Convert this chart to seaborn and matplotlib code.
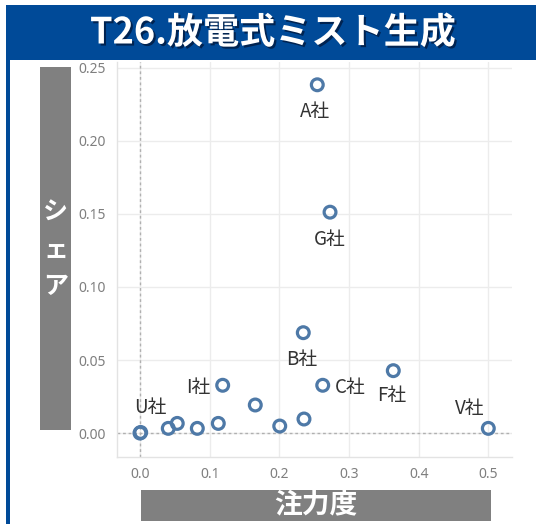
import matplotlib
matplotlib.use("Agg")
import matplotlib.pyplot as plt
import matplotlib.patheffects as pe
from matplotlib.patches import Rectangle
import seaborn as sns
import pandas as pd

# ---- data ----
title = "T26.放電式ミスト生成"
x_label = "注力度"
y_label = "シェア"

companies = ["A社", "G社", "B社", "C社", "F社", "V社", "I社", "U社",
             "", "", "", "", "", "", "", ""]
focus = [0.2545, 0.2728, 0.2344, 0.2623, 0.3636, 0.5000, 0.1187, 0.0000,
         0.0010, 0.0406, 0.0535, 0.0823, 0.1124, 0.1655, 0.2006, 0.2354]
share = [0.2384, 0.1512, 0.0687, 0.0327, 0.0427, 0.0032, 0.0327, 0.0000,
         0.0004, 0.0032, 0.0066, 0.0032, 0.0066, 0.0192, 0.0048, 0.0096]

x_ticks = [0.0, 0.1, 0.2, 0.3, 0.4, 0.5]
y_ticks = [0.00, 0.05, 0.10, 0.15, 0.20, 0.25]

# label placement (pixel offsets from point; style only)
label_style = {
    "A社": (-2, -27, "center"),
    "G社": (0, -27, "center"),
    "B社": (-2, -27, "center"),
    "C社": (12, -2, "left"),
    "F社": (-2, -25, "center"),
    "V社": (-19, 20, "center"),
    "I社": (-12, -2, "right"),
    "U社": (10, 26, "center"),
}

df = pd.DataFrame({"company": companies, "focus": focus, "share": share})

# ---- figure ----
W, H = 536, 524
sns.set_theme(style="white")
plt.rcParams["font.family"] = ["Noto Sans CJK JP", "DejaVu Sans"]

fig = plt.figure(figsize=(W / 100, H / 100), dpi=100)
fig.patch.set_facecolor("white")

def fx(px):
    return px / W

def fy(py):
    return 1 - py / H

BLUE = "#004a98"
GRAY_BOX = "#808080"
MARK = "#4e79a7"

# title banner and left border
fig.add_artist(Rectangle((fx(6), fy(60)), fx(536) - fx(6), fy(5) - fy(60),
                         transform=fig.transFigure, facecolor=BLUE, edgecolor="none"))
fig.add_artist(Rectangle((fx(6), 0), fx(4), fy(5),
                         transform=fig.transFigure, facecolor=BLUE, edgecolor="none"))
fig.text(fx(273), fy(33), title, color="white", fontsize=26, fontweight="bold",
         ha="center", va="center",
         path_effects=[pe.withSimplePatchShadow(offset=(1.5, -1.5), shadow_rgbFace="#001a40", alpha=0.8)])

# axis title boxes
fig.add_artist(Rectangle((fx(40), fy(430)), fx(31), fy(67) - fy(430),
                         transform=fig.transFigure, facecolor=GRAY_BOX, edgecolor="none"))
for i, ch in enumerate(y_label):
    fig.text(fx(55.5), fy(213 + 37 * i), ch, color="white", fontsize=18,
             fontweight="bold", ha="center", va="center")
fig.add_artist(Rectangle((fx(141), fy(521)), fx(350), fy(490) - fy(521),
                         transform=fig.transFigure, facecolor=GRAY_BOX, edgecolor="none"))
fig.text(fx(316), fy(505), x_label, color="white", fontsize=20, fontweight="bold",
         ha="center", va="center")

# ---- axes ----
ax = fig.add_axes([fx(117), fy(457), fx(512) - fx(117), fy(62) - fy(457)])
ax.set_xlim(-0.033, 0.534)
ax.set_ylim(-0.0164, 0.254)

ax.set_xticks(x_ticks)
ax.set_yticks(y_ticks)
ax.set_xticklabels([f"{v:.1f}" for v in x_ticks])
ax.set_yticklabels([f"{v:.2f}" for v in y_ticks])
ax.tick_params(axis="both", length=0, labelsize=10, labelcolor="#7f7f7f")
ax.tick_params(axis="y", pad=8)
ax.tick_params(axis="x", pad=7)
for lab in ax.get_xticklabels() + ax.get_yticklabels():
    lab.set_fontfamily(["Noto Sans", "DejaVu Sans"])

ax.grid(True, color="#ececec", linewidth=1)
ax.set_axisbelow(True)
for side in ["top", "right"]:
    ax.spines[side].set_visible(False)
for side in ["left", "bottom"]:
    ax.spines[side].set_color("#e3e3e3")
    ax.spines[side].set_linewidth(1)

ax.axhline(0, color="#b0b0b0", linewidth=1, linestyle=(0, (2, 2)), zorder=1)
ax.axvline(0, color="#b0b0b0", linewidth=1, linestyle=(0, (2, 2)), zorder=1)

sns.scatterplot(data=df, x="focus", y="share", ax=ax, s=72,
                facecolor="none", edgecolor=MARK, linewidth=2.3, zorder=3, legend=False)
for coll in ax.collections:
    coll.set_facecolor("none")
    coll.set_edgecolor(MARK)
    coll.set_linewidth(2.3)

ax.set_xlabel("")
ax.set_ylabel("")

for name, xv, yv in zip(companies, focus, share):
    if not name:
        continue
    dx, dy, ha = label_style[name]
    ax.annotate(name, (xv, yv), xytext=(dx, dy), textcoords="offset pixels",
                ha=ha, va="center", fontsize=13.5, color="#333333", zorder=4)

fig.savefig("out.png", dpi=100, facecolor="white")
